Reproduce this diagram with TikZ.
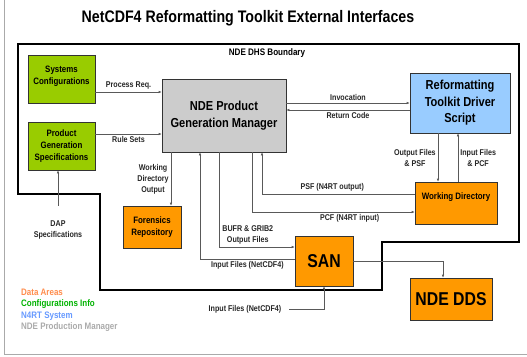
\documentclass[tikz,border=0pt]{standalone}
\usepackage{fontspec}
\setmainfont{Liberation Sans}[FakeStretch=0.85]
\usetikzlibrary{arrows.meta}

\begin{document}
\begin{tikzpicture}[x=1pt,y=-1pt,
		box/.style={draw=black!80, line width=0.6pt, align=center, inner sep=0pt, font=\fontsize{9.3}{12}\selectfont\bfseries},
		bigbox/.style={box, font=\fontsize{13}{16.5}\selectfont\bfseries},
		hugebox/.style={box, font=\fontsize{18.6}{22}\selectfont\bfseries},
		conn/.style={draw=black!65, line width=0.6pt, -{Latex[length=3pt,width=2.6pt]}},
		lbl/.style={font=\fontsize{8.4}{11}\selectfont\bfseries, align=center, text=black!85, inner sep=2pt},
		legend/.style={anchor=west, inner sep=0pt, font=\fontsize{9.4}{11}\selectfont\bfseries}]
			% Define colors
			\definecolor{cfggreen}{RGB}{153,204,0}
			\definecolor{pgmgray}{RGB}{204,204,204}
			\definecolor{n4rtblue}{RGB}{153,204,255}
			\definecolor{dataorange}{RGB}{255,153,0}
			\definecolor{legorange}{RGB}{255,140,76}
			\definecolor{leggreen}{RGB}{0,178,0}
			\definecolor{legblue}{RGB}{102,153,255}
			\definecolor{leggray}{RGB}{170,170,170}

			\useasboundingbox (0,0) rectangle (527,356);

			% Frame and boundary
			\draw[leggray, line width=1pt] (4,0) -- (4,354) -- (527,354);
			\draw[black, line width=1.2pt] (18,44) -- (519,44) -- (519,242) -- (382,242) -- (382,290) -- (100,290) -- (100,194) -- (18,194) -- cycle;

			% Titles
			\node[font=\fontsize{16.7}{20}\selectfont\bfseries] (title) at (248,18) {NetCDF4 Reformatting Toolkit External Interfaces};
			\node[font=\fontsize{9.5}{12}\selectfont\bfseries] (dhs) at (267,53) {NDE DHS Boundary};

			% Boxes
			\node[box, fill=cfggreen, minimum width=67pt, minimum height=48pt, text depth=8pt] (sysconf) at (61.5,79) {Systems\\Configurations};
			\node[box, fill=cfggreen, minimum width=67pt, minimum height=48pt] (prodspec) at (61.5,146) {Product\\Generation\\Specifications};
			\node[bigbox, fill=pgmgray, minimum width=124pt, minimum height=73pt] (pgm) at (224,115.5) {NDE Product\\Generation Manager};
			\node[bigbox, fill=n4rtblue, minimum width=100pt, minimum height=60pt] (rtds) at (460,103) {Reformatting\\Toolkit Driver\\Script};
			\node[box, fill=dataorange, minimum width=82pt, minimum height=42pt, text depth=14pt] (workdir) at (456,203) {Working Directory};
			\node[box, fill=dataorange, minimum width=58pt, minimum height=42pt] (forensics) at (152,227) {Forensics\\Repository};
			\node[hugebox, fill=dataorange, minimum width=58pt, minimum height=50pt] (san) at (324,261) {SAN};
			\node[hugebox, fill=dataorange, minimum width=82pt, minimum height=42pt] (dds) at (451,299) {NDE DDS};

			% Free labels
			\node[lbl] (dap) at (58,230) {DAP\\Specifications};
			\node[lbl] (extin) at (245,309) {Input Files (NetCDF4)};

			% Connectors
			\draw[conn] ([yshift=-13pt]sysconf.east) -- ([yshift=-13pt]sysconf.east -| pgm.west) node[lbl, above, midway] {Process Req.};
			\draw[conn] ([yshift=12pt]prodspec.east) -- ([yshift=12pt]prodspec.east -| pgm.west) node[lbl, below, midway] {Rule Sets};
			\draw[conn] ([yshift=13pt]dap.north) -- (dap.north |- prodspec.south);
			\draw[conn] (pgm.east |- rtds.west) -- (rtds.west) node[lbl, above, midway] {Invocation};
			\draw[conn] ([yshift=-7pt]rtds.west) -- ([yshift=-7pt]rtds.west -| pgm.east) node[lbl, below, midway] {Return Code};
			\draw[conn] ([xshift=19pt]forensics.north |- pgm.south) -- ([xshift=19pt]forensics.north) node[lbl, left, midway] {Working\\Directory\\Output};
			\draw[conn] ([yshift=2pt]san.west) -| ([xshift=-24pt]pgm.south) node[lbl, below, pos=0.25] {Input Files (NetCDF4)};
			\draw[conn] ([xshift=-5pt]pgm.south) |- ([yshift=14pt]san.west) node[lbl, above, pos=0.69] {BUFR \& GRIB2\\Output Files};
			\draw[conn] ([xshift=28pt]pgm.south) |- ([yshift=-9pt]workdir.west) node[lbl, below, pos=0.8] {PCF (N4RT input)};
			\draw[conn] ([yshift=9pt]workdir.west) -| ([xshift=38pt]pgm.south) node[lbl, above, pos=0.27] {PSF (N4RT output)};
			\draw[conn] ([xshift=-22pt]rtds.south) -- ([xshift=-22pt]rtds.south |- workdir.north) node[lbl, left, midway] {Output Files\\\& PSF};
			\draw[conn] ([xshift=2pt]workdir.north) -- ([xshift=2pt]workdir.north |- rtds.south) node[lbl, right, midway] {Input Files\\\& PCF};
			\draw[conn] (san.east) -| ([xshift=-8pt]dds.north);
			\draw[conn] ([xshift=6pt]extin.east) -| (san.south);

			% Legend
			\node[legend, text=legorange] (legdata) at (21,292) {Data Areas};
			\node[legend, text=leggreen] (legcfg) at (21,304) {Configurations Info};
			\node[legend, text=legblue] (legn4rt) at (21,316) {N4RT System};
			\node[legend, text=leggray] (legpgm) at (21,327) {NDE Production Manager};
		\end{tikzpicture}
\end{document}
